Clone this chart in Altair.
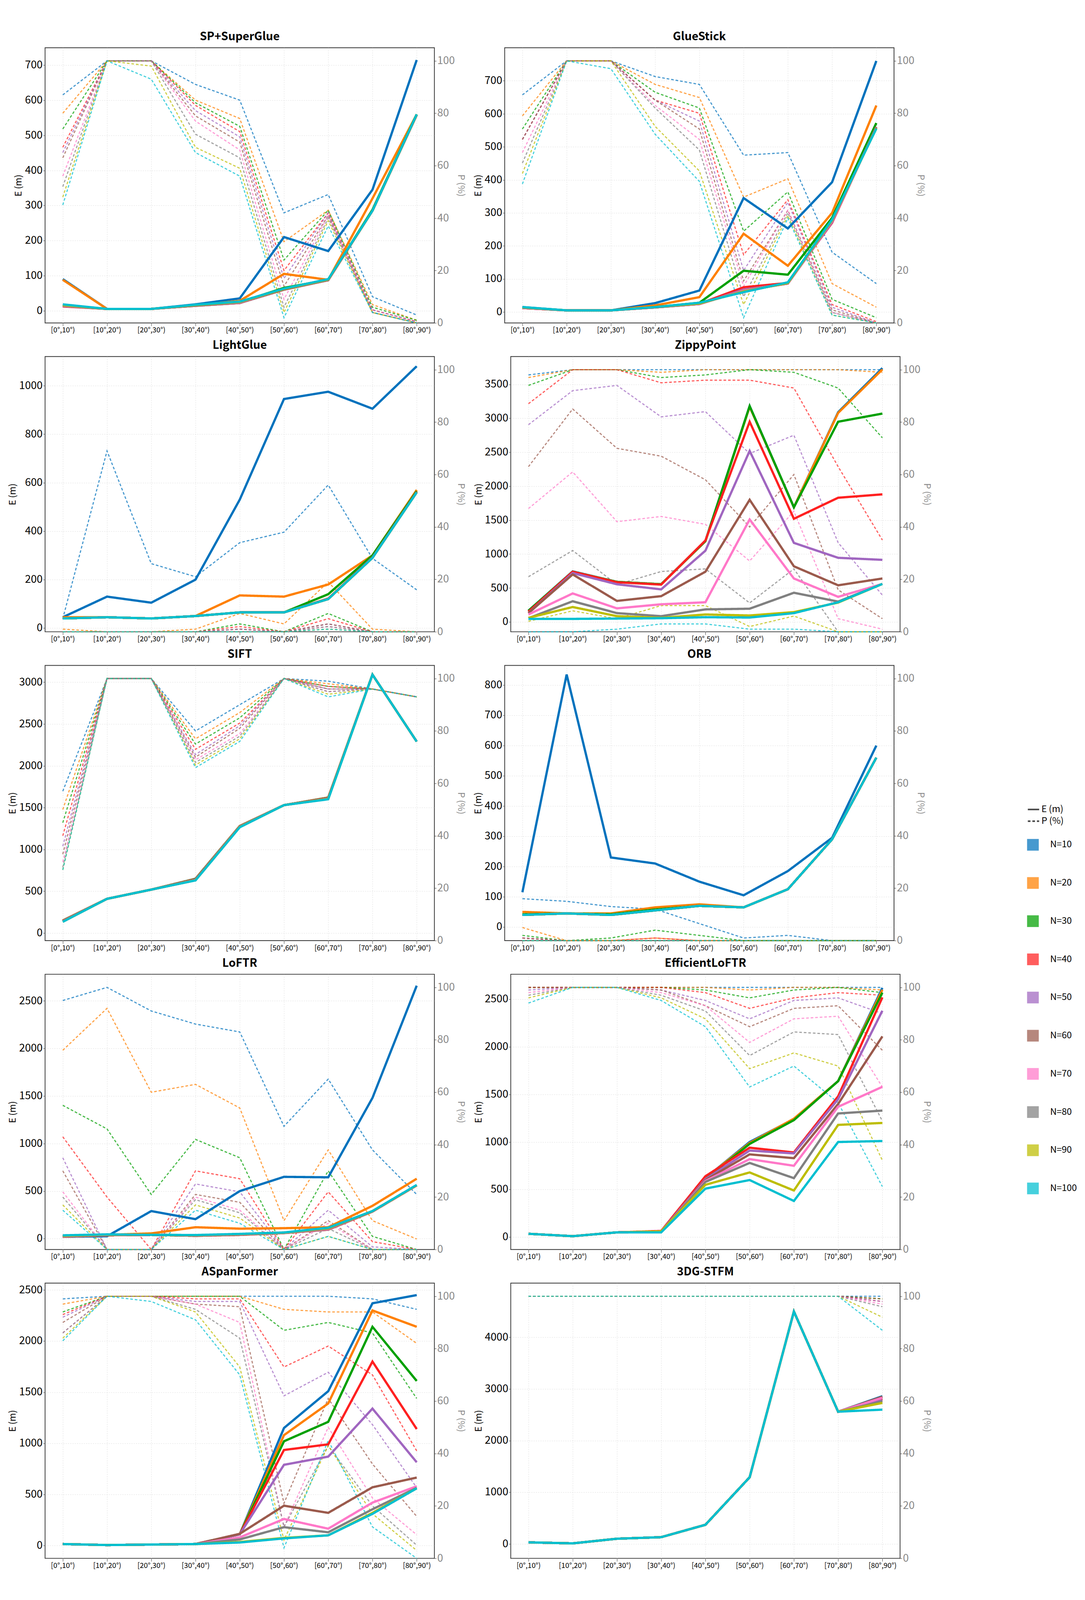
import altair as alt
import pandas as pd

bins = ["[0°,10°)", "[10°,20°)", "[20°,30°)", "[30°,40°)", "[40°,50°)",
        "[50°,60°)", "[60°,70°)", "[70°,80°)", "[80°,90°)"]
n_labels = ["N=10", "N=20", "N=30", "N=40", "N=50", "N=60", "N=70", "N=80", "N=90", "N=100"]
colors = ["#0072BD", "#FF8000", "#00A000", "#FF2020", "#A066C0",
          "#9B5A4C", "#FF78C8", "#808080", "#BDBD00", "#00BFD0"]

titles = ["SP+SuperGlue", "GlueStick", "LightGlue", "ZippyPoint", "SIFT",
          "ORB", "LoFTR", "EfficientLoFTR", "ASpanFormer", "3DG-STFM"]

# ---------------- E (m) ----------------
E_sp = [
    [90, 5, 5, 18, 35, 210, 170, 345, 715],
    [88, 5, 5, 15, 28, 105, 88, 320, 560],
    [15, 5, 5, 15, 24, 65, 88, 288, 560],
    [12, 5, 5, 14, 22, 62, 87, 285, 558],
    [13, 5, 5, 14, 22, 60, 87, 285, 558],
    [13, 5, 5, 14, 22, 60, 87, 285, 558],
    [14, 5, 5, 15, 23, 62, 88, 285, 558],
    [15, 5, 5, 15, 24, 62, 88, 285, 558],
    [16, 5, 5, 16, 25, 62, 89, 285, 559],
    [18, 5, 5, 17, 26, 63, 90, 285, 560]]
E_gs = [
    [15, 5, 5, 27, 65, 345, 253, 393, 760],
    [13, 5, 5, 20, 45, 237, 140, 300, 625],
    [13, 5, 5, 15, 28, 125, 113, 285, 572],
    [12, 5, 5, 14, 25, 75, 88, 270, 560],
    [12, 5, 5, 14, 24, 68, 86, 272, 560],
    [12, 5, 5, 14, 24, 66, 86, 275, 560],
    [12, 5, 5, 14, 24, 65, 86, 275, 558],
    [13, 5, 5, 14, 25, 63, 87, 277, 558],
    [14, 5, 5, 15, 26, 62, 88, 278, 556],
    [15, 5, 5, 15, 28, 60, 90, 280, 555]]
E_lg = [
    [45, 130, 105, 200, 530, 945, 975, 905, 1080],
    [45, 45, 40, 50, 135, 130, 180, 300, 570],
    [40, 45, 40, 50, 65, 65, 140, 300, 565],
    [40, 45, 40, 50, 65, 65, 122, 292, 562],
    [40, 45, 40, 50, 65, 65, 120, 290, 560],
    [40, 45, 40, 50, 65, 65, 120, 290, 560],
    [40, 45, 40, 50, 65, 65, 120, 290, 560],
    [40, 45, 40, 50, 65, 65, 120, 290, 560],
    [40, 45, 40, 50, 65, 65, 120, 290, 560],
    [40, 45, 40, 50, 65, 65, 120, 290, 560]]
E_zp = [
    [165, 745, 590, 555, 1195, 3180, 1690, 3090, 3740],
    [160, 740, 590, 555, 1190, 3170, 1690, 3080, 3720],
    [165, 740, 590, 555, 1190, 3180, 1690, 2950, 3070],
    [150, 740, 585, 550, 1200, 2950, 1520, 1830, 1880],
    [130, 720, 555, 480, 1050, 2520, 1165, 945, 915],
    [130, 700, 310, 380, 740, 1800, 820, 540, 640],
    [110, 420, 200, 260, 290, 1510, 640, 370, 560],
    [55, 305, 130, 85, 185, 195, 430, 300, 560],
    [60, 220, 85, 60, 110, 95, 145, 285, 560],
    [45, 45, 50, 55, 70, 65, 130, 290, 560]]
E_sift = [
    [150, 410, 520, 650, 1280, 1530, 1620, 3090, 2290],
    [150, 410, 520, 648, 1280, 1530, 1620, 3090, 2290],
    [148, 410, 520, 645, 1278, 1530, 1618, 3090, 2290],
    [146, 410, 520, 642, 1276, 1530, 1615, 3090, 2290],
    [144, 410, 520, 640, 1275, 1530, 1612, 3090, 2290],
    [142, 410, 520, 638, 1274, 1530, 1610, 3090, 2290],
    [140, 410, 520, 636, 1272, 1530, 1608, 3090, 2290],
    [138, 410, 520, 634, 1270, 1530, 1606, 3090, 2290],
    [136, 410, 520, 632, 1268, 1530, 1604, 3090, 2290],
    [135, 410, 520, 630, 1265, 1530, 1600, 3090, 2290]]
E_orb = [
    [115, 835, 230, 210, 150, 105, 185, 295, 600],
    [50, 45, 45, 65, 75, 65, 125, 290, 560],
    [42, 45, 42, 58, 70, 65, 125, 290, 560],
    [40, 45, 40, 55, 70, 65, 125, 290, 560],
    [40, 45, 40, 55, 70, 65, 125, 290, 560],
    [40, 45, 40, 55, 70, 65, 125, 290, 560],
    [40, 45, 40, 55, 70, 65, 125, 290, 560],
    [40, 45, 40, 55, 70, 65, 125, 290, 560],
    [40, 45, 40, 55, 70, 65, 125, 290, 560],
    [40, 45, 40, 55, 70, 65, 125, 290, 560]]
E_loftr = [
    [20, 25, 290, 205, 500, 650, 645, 1480, 2660],
    [30, 40, 55, 120, 105, 110, 120, 345, 630],
    [25, 35, 40, 30, 45, 60, 100, 290, 560],
    [20, 35, 40, 30, 40, 60, 95, 285, 560],
    [22, 36, 40, 32, 42, 60, 96, 286, 560],
    [20, 35, 40, 30, 40, 58, 95, 285, 560],
    [25, 38, 40, 33, 45, 60, 100, 288, 560],
    [28, 40, 40, 35, 48, 62, 105, 288, 562],
    [30, 42, 40, 36, 48, 63, 110, 289, 562],
    [35, 45, 40, 38, 50, 65, 115, 290, 565]]
E_eloftr = [
    [35, 10, 50, 60, 620, 1000, 1240, 1640, 2620],
    [35, 10, 50, 60, 620, 990, 1245, 1640, 2600],
    [35, 10, 50, 60, 610, 980, 1230, 1640, 2570],
    [35, 10, 50, 65, 640, 940, 890, 1480, 2520],
    [35, 10, 50, 60, 610, 910, 880, 1450, 2380],
    [35, 10, 50, 60, 600, 870, 830, 1400, 2110],
    [35, 10, 50, 60, 590, 820, 750, 1370, 1580],
    [35, 10, 50, 60, 580, 780, 620, 1300, 1330],
    [35, 10, 50, 60, 550, 680, 490, 1180, 1200],
    [35, 10, 50, 50, 510, 600, 380, 1000, 1010]]
E_aspan = [
    [15, 5, 10, 15, 110, 1150, 1510, 2370, 2450],
    [15, 5, 10, 15, 110, 1080, 1390, 2300, 2140],
    [15, 5, 10, 15, 110, 1020, 1210, 2140, 1610],
    [15, 5, 10, 15, 110, 935, 990, 1800, 1140],
    [15, 5, 10, 15, 110, 790, 870, 1340, 815],
    [15, 5, 10, 15, 115, 390, 320, 570, 665],
    [15, 5, 10, 15, 80, 260, 165, 420, 580],
    [15, 5, 10, 15, 60, 180, 130, 355, 565],
    [15, 5, 10, 15, 35, 75, 100, 320, 560],
    [15, 5, 10, 15, 30, 70, 100, 310, 560]]
E_3dg = [
    [30, 10, 100, 130, 370, 1290, 4500, 2560, 2860],
    [30, 10, 100, 130, 370, 1290, 4500, 2560, 2840],
    [30, 10, 100, 130, 370, 1290, 4500, 2560, 2820],
    [30, 10, 100, 130, 370, 1290, 4500, 2560, 2800],
    [30, 10, 100, 130, 370, 1290, 4500, 2560, 2780],
    [30, 10, 100, 130, 370, 1290, 4500, 2560, 2850],
    [30, 10, 100, 130, 370, 1290, 4500, 2560, 2830],
    [30, 10, 100, 130, 370, 1290, 4500, 2560, 2760],
    [30, 10, 100, 130, 370, 1290, 4500, 2560, 2730],
    [30, 10, 100, 130, 370, 1290, 4500, 2560, 2600]]

# ---------------- P (%) ----------------
P_sp = [
    [87, 100, 100, 91, 85, 42, 49, 10, 3],
    [80, 100, 100, 85, 78, 31, 43, 7, 1],
    [74, 100, 100, 84, 75, 24, 43, 6, 1],
    [67, 100, 100, 83, 73, 20, 42, 5, 0.5],
    [65, 100, 100, 81, 71, 17, 42, 5, 0.5],
    [63, 100, 100, 79, 69, 14, 41, 4, 0],
    [56, 100, 100, 77, 66, 9, 41, 4, 0],
    [52, 100, 100, 72, 63, 6, 40, 4, 0],
    [48, 100, 98, 67, 59, 4, 39, 4, 0],
    [45, 100, 93, 65, 56, 2, 37, 4, 0]]
P_gs = [
    [87, 100, 100, 94, 91, 64, 65, 27, 15],
    [79, 100, 100, 91, 86, 48, 55, 15, 6],
    [74, 100, 100, 88, 82, 35, 50, 9, 2],
    [70, 100, 100, 85, 80, 26, 47, 7, 0.5],
    [70, 100, 100, 85, 77, 20, 46, 6, 0],
    [70, 100, 100, 85, 74, 16, 43, 5, 0],
    [65, 100, 100, 83, 70, 14, 43, 4, 0],
    [61, 100, 100, 82, 66, 10, 42, 4, 0],
    [57, 100, 100, 75, 58, 7, 41, 3, 0],
    [53, 100, 97, 72, 54, 2, 40, 3, 0]]
P_lg = [
    [5, 69, 26, 21, 34, 38, 56, 28, 16],
    [1, 0, 0, 1, 7, 3, 19, 1, 0],
    [0, 0, 0, 0, 3, 0, 7, 0, 0],
    [0, 0, 0, 0, 2, 0, 5, 0, 0],
    [0, 0, 0, 0, 1, 0, 3, 0, 0],
    [0, 0, 0, 0, 1, 0, 3, 0, 0],
    [0, 0, 0, 0, 1, 0, 2, 0, 0],
    [0, 0, 0, 0, 1, 0, 2, 0, 0],
    [0, 0, 0, 0, 0, 0, 1, 0, 0],
    [0, 0, 0, 0, 0, 0, 1, 0, 0]]
P_zp = [
    [98, 100, 100, 100, 100, 100, 100, 100, 100],
    [97, 100, 100, 99, 100, 100, 100, 100, 99],
    [94, 100, 100, 97, 98, 100, 99, 93, 74],
    [87, 100, 100, 95, 96, 96, 93, 63, 35],
    [79, 92, 94, 82, 84, 68, 75, 34, 14],
    [63, 85, 70, 67, 58, 40, 60, 16, 5],
    [47, 61, 42, 44, 41, 27, 46, 5, 1],
    [21, 31, 18, 23, 24, 11, 24, 0, 0],
    [4, 8, 5, 10, 10, 2, 6, 0, 0],
    [0, 0, 1, 3, 3, 1, 1, 0, 0]]
P_sift = [
    [57, 100, 100, 80, 90, 100, 99, 96, 93],
    [50, 100, 100, 77, 87, 100, 98, 96, 93],
    [45, 100, 100, 75, 85, 100, 97, 96, 93],
    [40, 100, 100, 73, 83, 100, 97, 96, 93],
    [36, 100, 100, 71, 82, 100, 96, 96, 93],
    [33, 100, 100, 70, 81, 100, 96, 96, 93],
    [30, 100, 100, 69, 79, 100, 95, 96, 93],
    [28, 100, 100, 68, 78, 100, 95, 96, 93],
    [27, 100, 100, 67, 77, 100, 94, 96, 93],
    [27, 100, 100, 66, 76, 100, 93, 96, 93]]
P_orb = [
    [16, 15, 13, 12, 6.5, 1, 2, 0, 0],
    [5, 0, 0, 1, 0, 0, 0, 0, 0],
    [2, 0, 1, 4, 2, 0, 0, 0, 0],
    [1, 0, 0, 1, 0, 0, 0, 0, 0],
    [1, 0, 0, 0, 0, 0, 0, 0, 0],
    [1, 0, 0, 0, 0, 0, 0, 0, 0],
    [0, 0, 0, 0, 0, 0, 0, 0, 0],
    [0, 0, 0, 0, 0, 0, 0, 0, 0],
    [0, 0, 0, 0, 0, 0, 0, 0, 0],
    [0, 0, 0, 0, 0, 0, 0, 0, 0]]
P_loftr = [
    [95, 100, 91, 86, 83, 47, 65, 38, 21],
    [76, 92, 60, 63, 54, 11, 38, 11, 4],
    [55, 46, 21, 42, 35, 0, 30, 5, 0],
    [43, 20, 0, 30, 27, 0, 22, 3, 0],
    [35, 0, 0, 25, 22, 0, 15, 1, 0],
    [30, 0, 0, 21, 18, 0, 11, 0, 0],
    [22, 0, 0, 20, 15, 0, 10, 0, 0],
    [20, 0, 0, 19, 14, 0, 8, 0, 0],
    [17, 0, 0, 17, 12, 0, 5, 0, 0],
    [15, 0, 0, 15, 10, 0, 5, 0, 0]]
P_eloftr = [
    [100, 100, 100, 100, 100, 100, 100, 100, 100],
    [100, 100, 100, 100, 100, 99, 100, 100, 99],
    [100, 100, 100, 100, 99, 96, 99, 100, 98],
    [100, 100, 100, 100, 98, 92, 96, 98, 97],
    [99, 100, 100, 99, 95, 88, 95, 96, 90],
    [100, 100, 100, 99, 93, 85, 92, 93, 76],
    [98, 100, 100, 98, 93, 79, 88, 89, 62],
    [97, 100, 100, 97, 91, 74, 83, 82, 49],
    [96, 100, 100, 96, 88, 69, 75, 70, 34],
    [94, 100, 100, 95, 85, 62, 70, 56, 24]]
P_aspan = [
    [99, 100, 100, 100, 100, 100, 100, 99, 95],
    [97, 100, 100, 100, 100, 95, 94, 94, 82],
    [94, 100, 100, 100, 100, 87, 90, 86, 61],
    [93, 100, 100, 99, 99, 73, 81, 70, 41],
    [92, 100, 100, 98, 98, 62, 71, 51, 27],
    [90, 100, 100, 97, 96, 21, 61, 36, 16],
    [86, 100, 100, 97, 90, 12, 50, 23, 9],
    [86, 100, 100, 95, 84, 12, 43, 20, 5],
    [84, 100, 100, 94, 73, 7, 43, 17, 3],
    [83, 100, 98, 91, 70, 4, 45, 12, 0]]
P_3dg = [
    [100, 100, 100, 100, 100, 100, 100, 100, 100],
    [100, 100, 100, 100, 100, 100, 100, 100, 99],
    [100, 100, 100, 100, 100, 100, 100, 100, 99],
    [100, 100, 100, 100, 100, 100, 100, 100, 98],
    [100, 100, 100, 100, 100, 100, 100, 100, 98],
    [100, 100, 100, 100, 100, 100, 100, 100, 99],
    [100, 100, 100, 100, 100, 100, 100, 100, 97],
    [100, 100, 100, 100, 100, 100, 100, 100, 96],
    [100, 100, 100, 100, 100, 100, 100, 100, 92],
    [100, 100, 100, 100, 100, 100, 100, 100, 87]]

E_all = [E_sp, E_gs, E_lg, E_zp, E_sift, E_orb, E_loftr, E_eloftr, E_aspan, E_3dg]
P_all = [P_sp, P_gs, P_lg, P_zp, P_sift, P_orb, P_loftr, P_eloftr, P_aspan, P_3dg]
E_domains = [[-35, 750], [-33, 800], [-15, 1120], [-145, 3910], [-90, 3200],
             [-45, 865], [-114, 2780], [-130, 2763], [-125, 2567], [-280, 5050]]
E_ticks = [list(range(0, 701, 100)), list(range(0, 701, 100)), list(range(0, 1001, 200)),
           list(range(0, 3501, 500)), list(range(0, 3001, 500)), list(range(0, 801, 100)),
           list(range(0, 2501, 500)), list(range(0, 2501, 500)), list(range(0, 2501, 500)),
           list(range(0, 4001, 1000))]

FONT = "Noto Sans CJK SC"
W, H = 1030, 728
color_scale = alt.Scale(domain=n_labels, range=colors)
dash_scale = alt.Scale(domain=["E (m)", "P (%)"], range=[[1, 0], [7, 5]])


def frame(arr, kind):
    rows = []
    for i, series in enumerate(arr):
        for j, v in enumerate(series):
            rows.append({"bin": bins[j], "N": n_labels[i], "order": i, "type": kind, "value": v})
    return pd.DataFrame(rows)


def panel(k):
    x = alt.X("bin:N", sort=bins, scale=alt.Scale(padding=0.4),
              axis=alt.Axis(title=None, labelAngle=0, labelFontSize=19, grid=True,
                            gridDash=[3, 3], gridColor="#dddddd", tickSize=8))
    first = (k == 0)
    color = alt.Color("N:N", scale=color_scale,
                      legend=alt.Legend(title=None, orient="none", legendX=2590, legendY=2085,
                                        symbolType="square", symbolSize=120, symbolStrokeWidth=20,
                                        labelFontSize=24, rowPadding=10, labelFont=FONT,
                                        labelOffset=30)
                      if first else None)
    dash = alt.StrokeDash("type:N", scale=dash_scale,
                          legend=alt.Legend(title=None, orient="none", legendX=2590, legendY=1990,
                                            symbolType="stroke", symbolStrokeColor="black",
                                            symbolSize=900, symbolStrokeWidth=4,
                                            labelFontSize=24, labelFont=FONT)
                          if first else None)
    p = alt.Chart(frame(P_all[k], "P (%)")).mark_line(strokeWidth=3, opacity=0.72).encode(
        x=x,
        y=alt.Y("value:Q", scale=alt.Scale(domain=[0, 105], nice=False, zero=False),
                axis=alt.Axis(orient="right", title="P (%)", values=[0, 20, 40, 60, 80, 100],
                              grid=False, labelColor="#888888", titleColor="#888888",
                              titleFontWeight="normal", titleFontSize=24, labelFontSize=28)),
        color=color, strokeDash=dash, detail="N:N", order="order:Q")
    e = alt.Chart(frame(E_all[k], "E (m)")).mark_line(strokeWidth=6).encode(
        x=x,
        y=alt.Y("value:Q", scale=alt.Scale(domain=E_domains[k], nice=False, zero=False),
                axis=alt.Axis(orient="left", title="E (m)", values=E_ticks[k], grid=True,
                              format="d", gridDash=[3, 3], gridColor="#dddddd",
                              titleFontWeight="normal", titleFontSize=24, labelFontSize=28)),
        color=color, strokeDash=dash, detail="N:N", order="order:Q")
    return alt.layer(p, e).resolve_scale(y="independent").properties(
        width=W, height=H,
        title=alt.TitleParams(titles[k], fontSize=30, fontWeight="bold", font=FONT, offset=14))


rows = [alt.hconcat(panel(2 * r), panel(2 * r + 1), spacing=20) for r in range(5)]
chart = alt.vconcat(*rows, spacing=14).resolve_scale(color="shared", strokeDash="shared").configure(
    font=FONT, padding={"left": 12, "top": 5, "right": 5, "bottom": 5}
).configure_view(stroke="#333333", strokeWidth=2).configure_axis(
    domain=False, labelFont=FONT, titleFont=FONT, tickColor="#333333"
).configure_legend(
    padding=8
)

chart.save("out.html", embed_options={"renderer": "svg", "actions": False})
